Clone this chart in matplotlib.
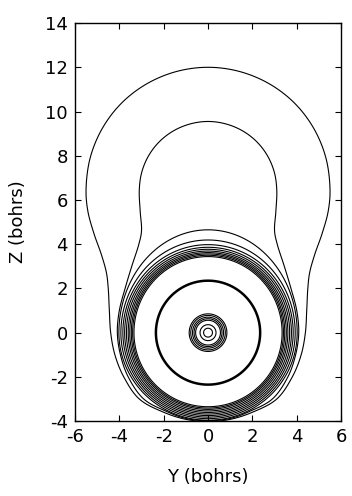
import numpy as np
import matplotlib
matplotlib.use("Agg")
import matplotlib.pyplot as plt
from matplotlib.patches import Polygon

plt.rcParams['font.family'] = ['DejaVu Sans']

# ---- data (bohrs) ----
# outer lobed contour, left half from top to bottom (Y, Z)
lobe1_y = [0.0, -1.42, -2.75, -3.89, -4.76, -5.31, -5.5, -5.42, -5.15, -4.8, -4.58, -4.5, -4.45, -4.39, -4.2, -3.8, -3.1, -2.0, -1.0, 0.0]
lobe1_z = [12.0, 11.81, 11.26, 10.39, 9.25, 7.92, 6.5, 5.5, 4.5, 3.5, 2.7, 2.0, 1.0, 0.0, -1.0, -2.0, -3.0, -3.6, -3.92, -4.02]
# second lobed contour
lobe2_y = [0.0, -0.80, -1.55, -2.19, -2.68, -2.99, -3.1, -3.06, -3.0, -3.12, -3.44, -3.74, -4.0, -4.09, -3.95, -3.6, -2.9, -1.9, -1.0, 0.0]
lobe2_z = [9.55, 9.44, 9.13, 8.64, 8.0, 7.25, 6.45, 5.5, 4.6, 4.0, 3.0, 2.0, 1.0, 0.0, -1.0, -2.0, -3.0, -3.55, -3.88, -3.98]
# band of contours around the nucleus: top, bottom and half-width
band_top = [4.65, 4.19, 3.98, 3.86, 3.77, 3.69, 3.62, 3.56, 3.50, 3.44]
band_bottom = [-3.96, -3.89, -3.82, -3.75, -3.68, -3.61, -3.54, -3.47, -3.41, -3.35]
band_side = [4.02, 3.93, 3.84, 3.76, 3.68, 3.60, 3.53, 3.46, 3.40, 3.34]
# crowded node contour
node_radius = 2.35
# small contours around the nucleus
core_radii = [0.2, 0.36, 0.56, 0.63, 0.70, 0.78, 0.85]

xticks = [-6, -4, -2, 0, 2, 4, 6]
yticks = [-4, -2, 0, 2, 4, 6, 8, 10, 12, 14]


def closed_spline(y_half, z_half, n=30, alpha=0.5):
    """Centripetal Catmull-Rom through the mirrored loop."""
    y_half = np.asarray(y_half, float)
    z_half = np.asarray(z_half, float)
    y = np.concatenate([y_half[:-1], -y_half[::-1][:-1]])
    z = np.concatenate([z_half[:-1], z_half[::-1][:-1]])
    P = np.column_stack([y, z])
    N = len(P)
    out = []
    for i in range(N):
        p0, p1, p2, p3 = P[i - 1], P[i], P[(i + 1) % N], P[(i + 2) % N]
        t0 = 0.0
        t1 = t0 + np.linalg.norm(p1 - p0) ** alpha
        t2 = t1 + np.linalg.norm(p2 - p1) ** alpha
        t3 = t2 + np.linalg.norm(p3 - p2) ** alpha
        t = np.linspace(t1, t2, n, endpoint=False)[:, None]
        a1 = (t1 - t) / (t1 - t0) * p0 + (t - t0) / (t1 - t0) * p1
        a2 = (t2 - t) / (t2 - t1) * p1 + (t - t1) / (t2 - t1) * p2
        a3 = (t3 - t) / (t3 - t2) * p2 + (t - t2) / (t3 - t2) * p3
        b1 = (t2 - t) / (t2 - t0) * a1 + (t - t0) / (t2 - t0) * a2
        b2 = (t3 - t) / (t3 - t1) * a2 + (t - t1) / (t3 - t1) * a3
        c = (t2 - t) / (t2 - t1) * b1 + (t - t1) / (t2 - t1) * b2
        out.append(c)
    return np.vstack(out)


def outline(ax, xy, lw):
    ax.add_patch(Polygon(xy, closed=True, fill=False, edgecolor='black',
                         linewidth=lw, joinstyle='round'))


fig = plt.figure(figsize=(3.52, 4.96), dpi=100)
ax = fig.add_axes([0.213, 0.151, 0.756, 0.8025])

lw = 0.8
for yh, zh in [(lobe1_y, lobe1_z), (lobe2_y, lobe2_z)]:
    outline(ax, closed_spline(yh, zh), lw)

phi_up = np.linspace(0, np.pi, 200, endpoint=False)
phi_dn = np.linspace(np.pi, 2 * np.pi, 200, endpoint=False)
for t_, b_, s_ in zip(band_top, band_bottom, band_side):
    yy = np.concatenate([s_ * np.cos(phi_up), s_ * np.cos(phi_dn)])
    zz = np.concatenate([t_ * np.sin(phi_up), -b_ * np.sin(phi_dn)])
    outline(ax, np.column_stack([yy, zz]), lw)

phi = np.linspace(0, 2 * np.pi, 400, endpoint=False)
outline(ax, np.column_stack([node_radius * np.cos(phi), node_radius * np.sin(phi)]), 1.8)
for r in core_radii:
    outline(ax, np.column_stack([r * np.cos(phi), r * np.sin(phi)]), lw)

ax.set_xlim(-6, 6)
ax.set_ylim(-4, 14)
ax.set_xticks(xticks)
ax.set_yticks(yticks)
ax.tick_params(direction='in', top=True, right=True, length=4, width=0.8,
               labelsize=13, pad=5)
ax.set_xticklabels([str(v) for v in xticks])
ax.set_yticklabels([str(v) for v in yticks])
for sp in ax.spines.values():
    sp.set_linewidth(1.0)

ax.set_xlabel('Y (bohrs)', fontsize=13)
ax.set_ylabel('Z (bohrs)', fontsize=13)
ax.xaxis.set_label_coords(0.5, -0.141)
ax.yaxis.set_label_coords(-0.214, 0.5)
ax.xaxis.label.set_va('center')
ax.yaxis.label.set_va('center')

fig.savefig('out.png', dpi=100)
